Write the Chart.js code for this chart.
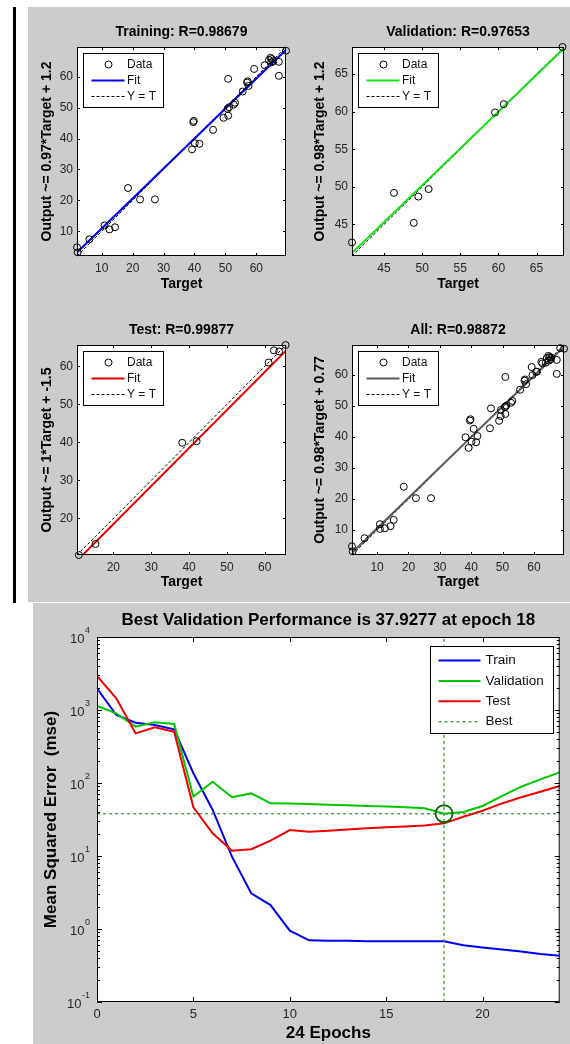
<!DOCTYPE html>
<html>
<head>
<meta charset="utf-8">
<script src="https://cdn.jsdelivr.net/npm/chart.js@4.4.1/dist/chart.umd.min.js"></script>
<style>
  html, body { margin: 0; padding: 0; background: #ffffff; width: 570px; height: 1044px; overflow: hidden; position: relative; }
  .panel { position: absolute; background: #cccccc; }
  .bar { position: absolute; background: #000000; }
</style>
</head>
<body>
<div class="bar" style="left:13px;top:7px;width:3px;height:596px"></div>
<div class="panel" style="left:28px;top:7px;width:542px;height:595px"></div>
<div class="panel" style="left:33px;top:603px;width:537px;height:441px"></div>
<script>
// ---- Regression samples (target vs. network output) ----
const trainTarget = [2.0, 2.2, 6.0, 10.9, 12.5, 14.3, 18.5, 22.4, 27.2, 39.2, 39.6, 39.8, 40.1, 41.6, 46.0, 49.4, 50.9, 50.9, 50.7, 51.2, 52.7, 53.1, 55.6, 57.0, 57.2, 57.5, 59.3, 62.7, 64.1, 64.6, 64.8, 65.0, 65.5, 67.3, 67.3, 69.6];
const trainOutput = [4.8, 3.2, 7.4, 11.9, 10.6, 11.3, 24.0, 20.3, 20.3, 36.5, 45.3, 45.7, 38.5, 38.3, 42.8, 46.7, 59.3, 47.4, 49.6, 50.1, 51.0, 51.6, 55.2, 58.1, 58.5, 57.0, 62.5, 63.7, 65.4, 66.1, 64.6, 65.7, 65.0, 64.8, 60.3, 68.4];
const valTarget = [40.8, 46.3, 48.9, 49.5, 50.85, 59.55, 60.7, 68.4];
const valOutput = [42.6, 49.2, 45.2, 48.7, 49.7, 59.9, 61.0, 68.6];
const testTarget = [10.9, 15.3, 38.2, 42.0, 61.0, 62.4, 63.8, 65.5];
const testOutput = [10.4, 13.3, 39.9, 40.3, 61.0, 64.2, 63.9, 65.6];

// Axis limits and tick values of the regression panels
const trainLimits = [2, 69.6];
const valLimits = [40.8, 68.6];
const testLimits = [10.4, 65.6];
const allLimits = [2, 69.6];
const trainTicks = [10, 20, 30, 40, 50, 60];
const valTicks = [45, 50, 55, 60, 65];
const testTicks = [20, 30, 40, 50, 60];
const allTicks = [10, 20, 30, 40, 50, 60];

// Linear fits [slope, intercept] as quoted on the y axis labels
const trainFit = [0.97, 1.2];
const valFit = [0.98, 1.2];
const testFit = [1, -1.5];
const allFit = [0.98, 0.77];

// ---- Training record (mean squared error per epoch) ----
const epochs = [0, 1, 2, 3, 4, 5, 6, 7, 8, 9, 10, 11, 12, 13, 14, 15, 16, 17, 18, 19, 20, 21, 22, 23, 24];
const trainPerf = [1980, 855, 670, 624, 545, 136, 42.7, 9.8, 3.08, 2.13, 0.95, 0.70, 0.69, 0.69, 0.68, 0.68, 0.68, 0.68, 0.68, 0.60, 0.56, 0.525, 0.49, 0.455, 0.43];
const valPerf = [1135, 901, 592, 678, 643, 65, 104, 63.7, 72, 52.6, 52.2, 51.5, 50.5, 49.5, 48.5, 47.5, 46.6, 45.2, 37.9277, 40, 48.4, 66, 89, 112, 140];
const testPerf = [2925, 1445, 479, 579, 505, 46.4, 20.5, 11.8, 12.4, 16.2, 22.7, 21.5, 22.2, 23.1, 24.0, 24.8, 25.4, 26.2, 28.0, 34.5, 41.7, 52.5, 63.7, 76, 91];
const bestEpoch = 18;
const bestPerf = 37.9277;
const perfXLimits = [0, 24];
const perfYLimits = [0.1, 10000];
const perfXTicks = [0, 5, 10, 15, 20];
const perfDecades = [-1, 0, 1, 2, 3, 4];

const FONT = "'Liberation Sans', Arial, Helvetica, sans-serif";

function addCanvas(x, y, w, h) {
  const c = document.createElement('canvas');
  c.width = w; c.height = h;
  c.style.cssText = `position:absolute;left:${x}px;top:${y}px;width:${w}px;height:${h}px`;
  document.body.appendChild(c);
  return c;
}

// White plot area, boxed frame with inward ticks, and the inset legend
const regFrame = {
  id: 'regFrame',
  beforeDatasetsDraw(chart) {
    const { ctx, chartArea: a } = chart;
    ctx.save();
    ctx.fillStyle = '#ffffff';
    ctx.fillRect(a.left, a.top, a.right - a.left, a.bottom - a.top);
    ctx.restore();
  },
  afterDatasetsDraw(chart, args, o) {
    const { ctx, chartArea: a, scales: { x, y } } = chart;
    ctx.save();
    ctx.strokeStyle = '#000'; ctx.lineWidth = 1;
    ctx.beginPath();
    x.ticks.forEach(t => {
      const p = Math.round(x.getPixelForValue(t.value)) + 0.5;
      ctx.moveTo(p, a.bottom); ctx.lineTo(p, a.bottom - 3);
      ctx.moveTo(p, a.top); ctx.lineTo(p, a.top + 3);
    });
    y.ticks.forEach(t => {
      const p = Math.round(y.getPixelForValue(t.value)) + 0.5;
      ctx.moveTo(a.left, p); ctx.lineTo(a.left + 3, p);
      ctx.moveTo(a.right, p); ctx.lineTo(a.right - 3, p);
    });
    ctx.stroke();
    ctx.strokeRect(a.left + 0.5, a.top + 0.5, a.right - a.left - 1, a.bottom - a.top - 1);

    // legend
    const lx = Math.round(a.left + 6) + 0.5, ly = Math.round(a.top + 6) + 0.5;
    const lw = 80, lh = 54;
    ctx.fillStyle = '#fff';
    ctx.fillRect(lx, ly, lw, lh);
    ctx.strokeRect(lx, ly, lw, lh);
    const rows = [ly + 11, ly + 27, ly + 43];
    ctx.beginPath();
    ctx.arc(lx + 25, rows[0], 3.5, 0, Math.PI * 2);
    ctx.stroke();
    ctx.strokeStyle = o.fitColor; ctx.lineWidth = 2;
    ctx.beginPath(); ctx.moveTo(lx + 8, rows[1]); ctx.lineTo(lx + 41, rows[1]); ctx.stroke();
    ctx.strokeStyle = '#000'; ctx.lineWidth = 1; ctx.setLineDash([3, 2]);
    ctx.beginPath(); ctx.moveTo(lx + 8, rows[2]); ctx.lineTo(lx + 41, rows[2]); ctx.stroke();
    ctx.setLineDash([]);
    ctx.fillStyle = '#111';
    ctx.font = `12px ${FONT}`;
    ctx.textAlign = 'left'; ctx.textBaseline = 'middle';
    ctx.fillText('Data', lx + 43.5, rows[0]);
    ctx.fillText('Fit', lx + 43.5, rows[1]);
    ctx.fillText('Y = T', lx + 43.5, rows[2]);
    ctx.restore();
  }
};

function regressionChart(o) {
  const [cx, cy, cw, ch] = o.rect;
  const b = o.box;
  const canvas = addCanvas(cx, cy, cw, ch);
  const [lo, hi] = o.limits;
  const size = 14, lh = size * 1.2;
  const areaTop = b.t - cy;
  const tP = (o.titleY - cy) - lh / 2;
  const tQ = areaTop - lh - tP;
  const yW = b.l - cx;
  const xH = cy + ch - b.b;
  const xTitlePad = (cy + ch - o.xTitleY) - lh / 2;
  const yTitlePad = (o.yTitleX - cx) - lh / 2;
  const bold = { family: FONT, size: size, weight: 'bold', lineHeight: 1.2 };
  const tickFont = { family: FONT, size: 12, lineHeight: 1.2 };

  new Chart(canvas, {
    type: 'scatter',
    data: {
      datasets: [
        { label: 'Data', data: o.target.map((t, i) => ({ x: t, y: o.output[i] })), pointStyle: 'circle', pointRadius: 3.5, pointBorderWidth: 1, borderColor: '#000', backgroundColor: 'rgba(0,0,0,0)', clip: false },
        { label: 'Fit', data: [{ x: lo, y: o.fit[0] * lo + o.fit[1] }, { x: hi, y: o.fit[0] * hi + o.fit[1] }], showLine: true, pointRadius: 0, borderColor: o.fitColor, borderWidth: 2 },
        { label: 'Y = T', data: [{ x: lo, y: lo }, { x: hi, y: hi }], showLine: true, pointRadius: 0, borderColor: '#000', borderWidth: 1, borderDash: [3, 2] }
      ]
    },
    options: {
      responsive: false, animation: false, events: [], devicePixelRatio: 1,
      layout: { padding: { top: 0, left: 0, right: cx + cw - b.r, bottom: 0 } },
      plugins: {
        legend: { display: false }, tooltip: { enabled: false },
        title: { display: true, text: o.title, fullSize: false, color: '#000', font: bold, padding: { top: tP, bottom: tQ } },
        regFrame: { fitColor: o.fitColor }
      },
      scales: {
        x: {
          type: 'linear', min: lo, max: hi,
          afterFit: s => { s.height = xH; },
          afterBuildTicks: s => { s.ticks = o.ticks.map(v => ({ value: v })); },
          grid: { display: false, drawTicks: false }, border: { display: false },
          ticks: { color: '#262626', font: tickFont, padding: 5, maxRotation: 0, autoSkip: false },
          title: { display: true, text: 'Target', color: '#000', font: bold, padding: { top: 0, bottom: xTitlePad } }
        },
        y: {
          type: 'linear', min: lo, max: hi,
          afterFit: s => { s.width = yW; },
          afterBuildTicks: s => { s.ticks = o.ticks.map(v => ({ value: v })); },
          grid: { display: false, drawTicks: false }, border: { display: false },
          ticks: { color: '#262626', font: tickFont, padding: 4, autoSkip: false },
          title: { display: true, text: o.ylabel, color: '#000', font: bold, padding: { top: yTitlePad, bottom: 0 } }
        }
      }
    },
    plugins: [regFrame]
  });
}

regressionChart({
  rect: [28, 7, 270, 290], box: { l: 77, t: 47, r: 286, b: 256 },
  titleY: 32.5, xTitleY: 284.5, yTitleX: 47,
  title: 'Training: R=0.98679', ylabel: 'Output ~= 0.97*Target + 1.2',
  target: trainTarget, output: trainOutput, limits: trainLimits, ticks: trainTicks, fit: trainFit, fitColor: '#0000e6'
});
regressionChart({
  rect: [298, 7, 272, 290], box: { l: 352, t: 47, r: 564, b: 256 },
  titleY: 32.5, xTitleY: 284.5, yTitleX: 320,
  title: 'Validation: R=0.97653', ylabel: 'Output ~= 0.98*Target + 1.2',
  target: valTarget, output: valOutput, limits: valLimits, ticks: valTicks, fit: valFit, fitColor: '#14e014'
});
regressionChart({
  rect: [28, 305, 270, 292], box: { l: 77, t: 345, r: 286, b: 555 },
  titleY: 330, xTitleY: 582.5, yTitleX: 47,
  title: 'Test: R=0.99877', ylabel: 'Output ~= 1*Target + -1.5',
  target: testTarget, output: testOutput, limits: testLimits, ticks: testTicks, fit: testFit, fitColor: '#e00000'
});
regressionChart({
  rect: [298, 305, 272, 292], box: { l: 352, t: 345, r: 564, b: 555 },
  titleY: 330, xTitleY: 582.5, yTitleX: 320,
  title: 'All: R=0.98872', ylabel: 'Output ~= 0.98*Target + 0.77',
  target: trainTarget.concat(valTarget, testTarget), output: trainOutput.concat(valOutput, testOutput),
  limits: allLimits, ticks: allTicks, fit: allFit, fitColor: '#5a5a5a'
});

// ---- Performance plot ----
const perfFrame = {
  id: 'perfFrame',
  beforeDatasetsDraw(chart) {
    const { ctx, chartArea: a } = chart;
    ctx.save();
    ctx.fillStyle = '#ffffff';
    ctx.fillRect(a.left, a.top, a.right - a.left, a.bottom - a.top);
    ctx.restore();
  },
  afterDatasetsDraw(chart, args, o) {
    const { ctx, chartArea: a, scales: { x, y } } = chart;
    ctx.save();
    ctx.strokeStyle = '#000'; ctx.lineWidth = 1;
    ctx.beginPath();
    x.ticks.forEach(t => {
      const p = Math.round(x.getPixelForValue(t.value)) + 0.5;
      ctx.moveTo(p, a.bottom); ctx.lineTo(p, a.bottom - 5);
      ctx.moveTo(p, a.top); ctx.lineTo(p, a.top + 5);
    });
    perfDecades.forEach(k => {
      const p = Math.round(y.getPixelForValue(Math.pow(10, k))) + 0.5;
      ctx.moveTo(a.left, p); ctx.lineTo(a.left + 5, p);
      ctx.moveTo(a.right, p); ctx.lineTo(a.right - 5, p);
      if (k < perfDecades[perfDecades.length - 1]) {
        for (let m = 2; m <= 9; m++) {
          const q = Math.round(y.getPixelForValue(m * Math.pow(10, k))) + 0.5;
          ctx.moveTo(a.left, q); ctx.lineTo(a.left + 3, q);
          ctx.moveTo(a.right, q); ctx.lineTo(a.right - 3, q);
        }
      }
    });
    ctx.stroke();
    ctx.strokeRect(a.left + 0.5, a.top + 0.5, a.right - a.left - 1, a.bottom - a.top - 1);

    // y tick labels: 10 with a raised exponent
    ctx.fillStyle = '#262626';
    ctx.textBaseline = 'middle';
    perfDecades.forEach(k => {
      const p = y.getPixelForValue(Math.pow(10, k));
      const exp = String(k);
      ctx.font = `9px ${FONT}`;
      const ew = ctx.measureText(exp).width;
      const right = a.left - 7;
      ctx.textAlign = 'left';
      ctx.fillText(exp, right - ew, p - 6);
      ctx.font = `13px ${FONT}`;
      ctx.textAlign = 'right';
      ctx.fillText('10', right - ew - 0.5, p + 2);
    });

    // legend
    const lw = 123, lh = 87;
    const lx = Math.round(a.right - 7 - lw) + 0.5, ly = Math.round(a.top + 9) + 0.5;
    ctx.fillStyle = '#fff';
    ctx.fillRect(lx, ly, lw, lh);
    ctx.strokeStyle = '#000'; ctx.lineWidth = 1;
    ctx.strokeRect(lx, ly, lw, lh);
    ctx.font = `13.5px ${FONT}`;
    ctx.textAlign = 'left';
    o.entries.forEach((e, i) => {
      const ry = ly + 14 + i * 20.4;
      ctx.strokeStyle = e.color; ctx.lineWidth = e.dash ? 1.2 : 2;
      ctx.setLineDash(e.dash || []);
      ctx.beginPath(); ctx.moveTo(lx + 8, ry); ctx.lineTo(lx + 50, ry); ctx.stroke();
      ctx.setLineDash([]);
      ctx.fillStyle = '#111';
      ctx.fillText(e.label, lx + 55, ry);
    });
    ctx.restore();
  }
};

(function perfChart() {
  const cx = 33, cy = 603, cw = 537, ch = 441;
  const box = { l: 97, t: 637, r: 563, b: 1002 };
  const canvas = addCanvas(cx, cy, cw, ch);
  const size = 17, lh = size * 1.2;
  const bold = { family: FONT, size: size, weight: 'bold', lineHeight: 1.2 };
  const tP = (620.5 - cy) - lh / 2;
  const tQ = (box.t - cy) - lh - tP;
  const series = vals => epochs.map((e, i) => ({ x: e, y: vals[i] }));
  const colors = { train: '#0000f0', val: '#00c800', test: '#f00000', best: '#2f8f2f', circle: '#006a00' };

  new Chart(canvas, {
    type: 'scatter',
    data: {
      datasets: [
        { label: 'Best epoch', data: [{ x: bestEpoch, y: bestPerf }], pointStyle: 'circle', pointRadius: 8.5, pointBorderWidth: 1.8, borderColor: colors.circle, backgroundColor: 'rgba(0,0,0,0)', clip: false },
        { label: 'Best', data: [{ x: bestEpoch, y: perfYLimits[0] }, { x: bestEpoch, y: perfYLimits[1] }], showLine: true, pointRadius: 0, borderColor: colors.best, borderWidth: 1.2, borderDash: [3, 3] },
        { label: 'Best', data: [{ x: perfXLimits[0], y: bestPerf }, { x: perfXLimits[1], y: bestPerf }], showLine: true, pointRadius: 0, borderColor: colors.best, borderWidth: 1.2, borderDash: [3, 3] },
        { label: 'Test', data: series(testPerf), showLine: true, pointRadius: 0, borderColor: colors.test, borderWidth: 2 },
        { label: 'Validation', data: series(valPerf), showLine: true, pointRadius: 0, borderColor: colors.val, borderWidth: 2 },
        { label: 'Train', data: series(trainPerf), showLine: true, pointRadius: 0, borderColor: colors.train, borderWidth: 2 }
      ]
    },
    options: {
      responsive: false, animation: false, events: [], devicePixelRatio: 1,
      layout: { padding: { top: 0, left: 0, right: cx + cw - box.r, bottom: 0 } },
      plugins: {
        legend: { display: false }, tooltip: { enabled: false },
        title: { display: true, text: 'Best Validation Performance is 37.9277 at epoch 18', fullSize: false, color: '#000', font: bold, padding: { top: tP, bottom: tQ } },
        perfFrame: {
          entries: [
            { label: 'Train', color: colors.train },
            { label: 'Validation', color: colors.val },
            { label: 'Test', color: colors.test },
            { label: 'Best', color: colors.best, dash: [3, 3] }
          ]
        }
      },
      scales: {
        x: {
          type: 'linear', min: perfXLimits[0], max: perfXLimits[1],
          afterFit: s => { s.height = cy + ch - box.b; },
          afterBuildTicks: s => { s.ticks = perfXTicks.map(v => ({ value: v })); },
          grid: { display: false, drawTicks: false }, border: { display: false },
          ticks: { color: '#262626', font: { family: FONT, size: 13, lineHeight: 1.2 }, padding: 5, maxRotation: 0, autoSkip: false },
          title: { display: true, text: '24 Epochs', color: '#000', font: bold, padding: { top: 0, bottom: Math.max(0, (cy + ch - 1034) - lh / 2) } }
        },
        y: {
          type: 'logarithmic', min: perfYLimits[0], max: perfYLimits[1],
          afterFit: s => { s.width = box.l - cx; },
          afterBuildTicks: s => { s.ticks = perfDecades.map(k => ({ value: Math.pow(10, k) })); },
          grid: { display: false, drawTicks: false }, border: { display: false },
          ticks: { display: false },
          title: { display: true, text: 'Mean Squared Error  (mse)', color: '#000', font: bold, padding: { top: (51 - cx) - lh / 2, bottom: 0 } }
        }
      }
    },
    plugins: [perfFrame]
  });
})();
</script>
</body>
</html>
